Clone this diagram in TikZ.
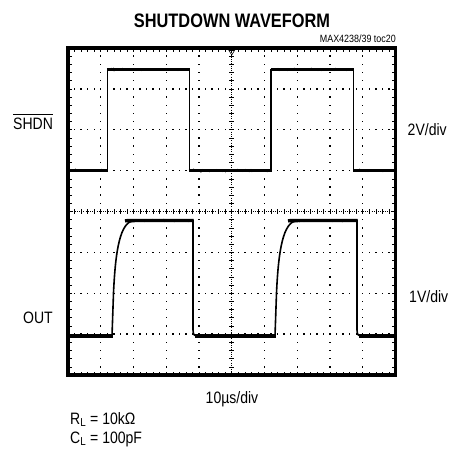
\documentclass[tikz,border=0pt]{standalone}
\usepackage{fontspec}
\setmainfont{Liberation Sans}[FakeStretch=0.85]
\newfontfamily\titlefont{Liberation Sans}[FakeStretch=0.84]
\usetikzlibrary{decorations.pathmorphing}
\pgfmathsetseed{7}
\tikzset{
  lbl/.style={inner sep=0pt, font=\fontsize{16.5}{18}\selectfont},
  frame/.style={line width=3.5pt},
  gdot/.style={fill=black},
  tick/.style={line width=0.6pt},
  edge/.style={line width=1.2pt, line join=miter},
  flat/.style={line width=3.4pt, line cap=butt},
  fuzz/.style={line width=0.5pt, decorate, decoration={random steps, segment length=1.2pt, amplitude=1.3pt}},
}
\begin{document}
\begin{tikzpicture}[x=1pt,y=-1pt]
\useasboundingbox (0,0) rectangle (450,448);
% grid dots: vertical lines
\foreach \i in {1,2,3,4,6,7,8,9}
  \foreach \j in {1,...,39}
    \fill[gdot] ({68+\i*32.75-0.7},{48+\j*8.175-0.7}) rectangle ++(1.4,1.4);
% grid dots: horizontal lines
\foreach \j in {1,2,3,5,6,7}
  \foreach \i in {1,...,49}
    \fill[gdot] ({68+\i*6.55-0.7},{48+\j*40.875-0.7}) rectangle ++(1.4,1.4);
% centre axes
\draw[tick, dash pattern=on 1pt off 1.2pt] (231.75,48) -- (231.75,375);
\draw[tick, dash pattern=on 1pt off 1.2pt] (68,211.5) -- (395.5,211.5);
\foreach \j in {1,...,39}
  \draw[tick] ({231.75-2.5},{48+\j*8.175}) -- ++(5,0);
\foreach \i in {1,...,49}
  \draw[tick] ({68+\i*6.55},{211.5-2.5}) -- ++(0,5);
% edge ticks
\foreach \j in {1,...,39}{
  \draw[tick] (68,{48+\j*8.175}) -- ++(3.5,0);
  \draw[tick] (395.5,{48+\j*8.175}) -- ++(-3.5,0);
}
\foreach \i in {1,...,49}{
  \draw[tick] ({68+\i*6.55},48) -- ++(0,3.5);
  \draw[tick] ({68+\i*6.55},375) -- ++(0,-3.5);
}
% trigger marker
\draw[tick] (229,50.5) -- (234.5,50.5) -- (231.75,55) -- cycle;
% frame
\draw[frame] (68,48) rectangle (395.5,375);
% SHDN trace
\draw[edge] (68,170.6) -- (107.3,170.6) -- (107.3,69.5) -- (189.2,69.5) -- (189.2,170.6)
  -- (271,170.6) -- (271,69.5) -- (353.5,69.5) -- (353.5,170.6) -- (395.5,170.6);
\draw[flat] (68,170.6) -- (107.8,170.6);
\draw[flat] (106.8,69.5) -- (189.7,69.5);
\draw[flat] (188.7,170.6) -- (271.5,170.6);
\draw[flat] (270.5,69.5) -- (354,69.5);
\draw[flat] (353,170.6) -- (395.5,170.6);
\draw[fuzz] (69,170.6) -- (106.5,170.6);
\draw[fuzz] (108,69.5) -- (188.5,69.5);
\draw[fuzz] (190,170.6) -- (270.3,170.6);
\draw[fuzz] (272,69.5) -- (352.8,69.5);
\draw[fuzz] (354.3,170.6) -- (394,170.6);
% OUT trace
\draw[line width=1.6pt] (68,336) -- (112,336) -- (113.5,293) .. controls (115.5,250) and (120,222) .. (134,220.5)
  -- (193,220.5) -- (193,330) .. controls (193.5,335) .. (197,336)
  -- (275,336) -- (276.5,293) .. controls (278.5,250) and (283,222) .. (297,220.5)
  -- (357,220.5) -- (357,330) .. controls (357.5,335) .. (361,336) -- (395.5,336);
\draw[flat] (68,336) -- (112.5,336);
\draw[flat] (125,220.8) .. controls (128,220.5) .. (193.5,220.5);
\draw[flat] (195,336) -- (275.5,336);
\draw[flat] (288,220.8) .. controls (291,220.5) .. (357.5,220.5);
\draw[flat] (359,336) -- (395.5,336);
\draw[fuzz] (69,336) -- (111,336);
\draw[fuzz] (130,220.5) -- (192,220.5);
\draw[fuzz] (198,336) -- (274,336);
\draw[fuzz] (293,220.5) -- (356,220.5);
\draw[fuzz] (362,336) -- (394,336);
% labels
\node[inner sep=0pt, anchor=base] (title) at (232,27)
  {\titlefont\bfseries\fontsize{19.5}{22}\selectfont SHUTDOWN WAVEFORM};
\node[inner sep=0pt, anchor=base east, font=\fontsize{10.5}{12}\selectfont] (toc) at (396,42) {MAX4238/39 toc20};
\node[lbl, anchor=base west] (shdn) at (13,129) {SHDN};
\draw[line width=0.8pt] ([yshift=3pt]shdn.north west) -- ([yshift=3pt]shdn.north east);
\node[lbl, anchor=base west] (v2) at (407.5,135) {2V/div};
\node[lbl, anchor=base west] (v1) at (409,302) {1V/div};
\node[lbl, anchor=base west] (out) at (23,323) {OUT};
\node[lbl, anchor=base] (tdiv) at (232,403) {10µs/div};
\node[lbl, anchor=base west] (rl) at (70,424) {R\textsubscript{L} = 10kΩ};
\node[lbl, anchor=base west] (cl) at (70,443) {C\textsubscript{L} = 100pF};
\end{tikzpicture}
\end{document}
